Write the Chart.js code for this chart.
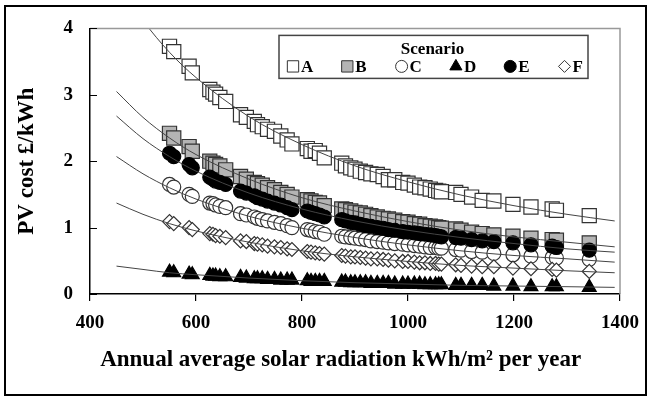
<!DOCTYPE html>
<html>
<head>
<meta charset="utf-8">
<script src="https://cdn.jsdelivr.net/npm/chart.js@4.4.1/dist/chart.umd.min.js"></script>
<style>
  html, body { margin:0; padding:0; background:#fff; }
  #wrap { position:relative; width:650px; height:396px; }
  #frame { position:absolute; left:4px; top:5px; width:639px; height:387px; border:2px solid #000; }
  #c { position:absolute; left:0; top:0; }
</style>
</head>
<body>
<div id="wrap">
  <div id="frame"></div>
  <canvas id="c" width="650" height="396"></canvas>
</div>
<script>
// Data
const radiation = [550,558,587,593,626,632,637,645,656,684,695,710,716,725,735,748,760,772,781,
  810,817,825,833,842,875,882,892,900,910,920,930,942,953,963,975,990,1000,1012,1022,1032,1042,
  1052,1058,1063,1090,1100,1120,1140,1162,1198,1232,1272,1280,1342];

const scenA = [3.73,3.65,3.43,3.33,3.08,3.04,3.01,2.96,2.90,2.70,2.66,2.60,2.55,2.52,2.48,2.45,2.38,2.32,2.26,
  2.19,2.15,2.16,2.12,2.05,1.97,1.93,1.90,1.88,1.85,1.83,1.81,1.80,1.77,1.72,1.72,1.68,1.67,1.64,1.61,1.60,1.58,
  1.56,1.55,1.54,1.53,1.50,1.46,1.41,1.40,1.35,1.31,1.28,1.26,1.18];
const scenB = [2.42,2.35,2.22,2.15,2.00,1.97,1.95,1.93,1.87,1.77,1.73,1.68,1.66,1.64,1.60,1.57,1.53,1.50,1.46,
  1.42,1.40,1.38,1.37,1.33,1.28,1.27,1.25,1.23,1.22,1.20,1.18,1.16,1.14,1.13,1.11,1.09,1.08,1.06,1.05,1.03,1.02,
  1.01,1.00,0.99,0.98,0.96,0.93,0.91,0.89,0.87,0.84,0.82,0.81,0.77];
const scenC = [1.65,1.61,1.50,1.47,1.37,1.36,1.34,1.32,1.30,1.21,1.19,1.16,1.14,1.12,1.10,1.08,1.06,1.03,1.00,
  0.97,0.96,0.94,0.93,0.90,0.87,0.86,0.85,0.84,0.83,0.82,0.80,0.79,0.78,0.77,0.76,0.75,0.74,0.73,0.72,0.71,0.70,
  0.70,0.69,0.69,0.67,0.66,0.64,0.63,0.61,0.59,0.57,0.55,0.54,0.52];
const scenD = [0.33,0.32,0.30,0.29,0.28,0.27,0.27,0.26,0.26,0.25,0.24,0.23,0.23,0.23,0.22,0.22,0.21,0.21,0.21,
  0.20,0.19,0.19,0.19,0.19,0.18,0.18,0.17,0.17,0.17,0.17,0.16,0.16,0.16,0.16,0.15,0.15,0.15,0.15,0.15,0.14,0.14,
  0.14,0.14,0.14,0.13,0.13,0.13,0.13,0.12,0.12,0.11,0.11,0.11,0.10];
const scenE = [2.12,2.07,1.95,1.90,1.76,1.73,1.70,1.68,1.65,1.55,1.52,1.48,1.45,1.43,1.40,1.37,1.34,1.30,1.27,
  1.25,1.23,1.21,1.19,1.16,1.12,1.10,1.08,1.07,1.05,1.03,1.02,1.00,0.99,0.97,0.96,0.94,0.93,0.92,0.91,0.90,0.89,
  0.88,0.87,0.86,0.85,0.84,0.82,0.80,0.79,0.77,0.74,0.72,0.70,0.66];
const scenF = [1.09,1.06,1.00,0.97,0.91,0.90,0.88,0.87,0.85,0.80,0.79,0.76,0.75,0.74,0.72,0.71,0.70,0.68,0.67,
  0.64,0.63,0.62,0.61,0.60,0.58,0.57,0.56,0.56,0.55,0.54,0.53,0.53,0.52,0.51,0.50,0.49,0.49,0.48,0.47,0.47,0.46,
  0.46,0.45,0.45,0.44,0.43,0.42,0.41,0.41,0.39,0.38,0.37,0.36,0.34];

// trend lines, read at these x positions
const fitX = [450,500,550,600,700,800,900,1000,1100,1200,1300,1390];
const fitA = [4.72,4.12,3.64,3.26,2.67,2.25,1.93,1.69,1.49,1.33,1.20,1.10];
const fitB = [3.05,2.66,2.35,2.10,1.73,1.45,1.25,1.09,0.96,0.86,0.78,0.71];
const fitC = [2.07,1.81,1.60,1.43,1.17,0.99,0.85,0.74,0.65,0.58,0.53,0.48];
const fitD = [0.42,0.37,0.32,0.29,0.24,0.20,0.17,0.15,0.13,0.12,0.11,0.10];
const fitE = [2.68,2.34,2.07,1.85,1.52,1.28,1.10,0.96,0.85,0.76,0.68,0.63];
const fitF = [1.37,1.20,1.06,0.95,0.78,0.65,0.56,0.49,0.43,0.39,0.35,0.32];

const xTicks = [400,600,800,1000,1200,1400];
const yTicks = [0,1,2,3,4];

const serif = "'Liberation Serif', 'Times New Roman', serif";
const pts = (xs, ys) => xs.map((x, i) => ({ x, y: ys[i] }));

// name, values, style
const scenarios = [
  { label:"A", data:scenA, fit:fitA, style:"rect",     r:10, bg:"#fff",    bd:"#333", order:6 },
  { label:"B", data:scenB, fit:fitB, style:"rect",     r:10, bg:"#b4b4b4", bd:"#333", order:5 },
  { label:"C", data:scenC, fit:fitC, style:"circle",   r:7,  bg:"#fff",    bd:"#333", order:4 },
  { label:"D", data:scenD, fit:fitD, style:"triangle", r:8,  bg:"#000",    bd:"#000", order:3 },
  { label:"E", data:scenE, fit:fitE, style:"circle",   r:7,  bg:"#000",    bd:"#000", order:2 },
  { label:"F", data:scenF, fit:fitF, style:"rectRot",  r:7,  bg:"#fff",    bd:"#333", order:1 }
];

const datasets = [];
scenarios.forEach(s => {
  datasets.push({
    label: s.label, data: pts(radiation, s.data), order: s.order,
    pointStyle: s.style, pointRadius: s.r, pointBackgroundColor: s.bg,
    pointBorderColor: s.bd, pointBorderWidth: 1.2, showLine: false
  });
});
scenarios.forEach(s => {
  datasets.push({
    label: s.label + " fit", data: pts(fitX, s.fit), order: 0,
    showLine: true, pointRadius: 0, borderColor: "#444", borderWidth: 1,
    cubicInterpolationMode: "monotone", fill: false
  });
});

// inward y ticks + grey top/right edge of the plot
const axisExtras = {
  id: "axisExtras",
  afterDraw(chart) {
    const { ctx, chartArea: a, scales } = chart;
    ctx.save();
    ctx.strokeStyle = "#999";
    ctx.lineWidth = 1.5;
    ctx.beginPath();
    ctx.moveTo(a.left, a.top); ctx.lineTo(a.right, a.top); ctx.lineTo(a.right, a.bottom);
    ctx.stroke();
    ctx.strokeStyle = "#000";
    ctx.lineWidth = 1.2;
    ctx.beginPath();
    yTicks.forEach(v => {
      const y = Math.round(scales.y.getPixelForValue(v)) + 0.5;
      ctx.moveTo(a.left, y); ctx.lineTo(a.left + 7, y);
    });
    ctx.stroke();
    ctx.restore();
  }
};

// boxed legend with title, one row
const legendBox = {
  id: "legendBox",
  afterDraw(chart) {
    const { ctx, chartArea: a } = chart;
    const left = a.left + 189, top = a.top + 7, w = 309, h = 43;
    ctx.save();
    ctx.fillStyle = "#fff";
    ctx.fillRect(left, top, w, h);
    ctx.strokeStyle = "#444";
    ctx.lineWidth = 1.5;
    ctx.strokeRect(left, top, w, h);
    ctx.fillStyle = "#000";
    ctx.font = "bold 17px " + serif;
    ctx.textAlign = "center";
    ctx.textBaseline = "middle";
    ctx.fillText("Scenario", left + w / 2 - 1, top + 14);
    const y = top + 31;
    const step = 54.3;
    scenarios.forEach((s, i) => {
      const mx = left + 14 + i * step;
      ctx.fillStyle = s.bg;
      ctx.strokeStyle = s.bd;
      ctx.lineWidth = 1;
      const r = s.style === "rect" ? 8 : (s.style === "triangle" ? 7 : 6);
      Chart.helpers.drawPoint(ctx, { pointStyle: s.style, radius: r, rotation: 0, borderWidth: 1 }, mx, y);
      ctx.fillStyle = "#000";
      ctx.textAlign = "left";
      ctx.fillText(s.label, mx + 8, y + 1);
    });
    ctx.restore();
  }
};

new Chart(document.getElementById("c"), {
  type: "scatter",
  data: { datasets },
  options: {
    responsive: false,
    animation: false,
    layout: { padding: { left: 0, top: 27, right: 26, bottom: 0 } },
    plugins: { legend: { display: false }, tooltip: { enabled: false } },
    scales: {
      x: {
        type: "linear", min: 400, max: 1400,
        afterBuildTicks: s => { s.ticks = xTicks.map(v => ({ value: v })); },
        ticks: { color: "#000", padding: 11, font: { family: serif, size: 19, weight: "bold" },
                 callback: v => String(v) },
        grid: { drawOnChartArea: false, drawTicks: true, tickLength: 7, color: "#000", lineWidth: 1.2 },
        border: { color: "#000", width: 1.5 },
        // trailing spaces nudge the centred title a little to the left, as in the original
        title: { display: true, text: "Annual average solar radiation kWh/m² per year\u00a0\u00a0\u00a0\u00a0\u00a0", color: "#000",
                 font: { family: serif, size: 23, weight: "bold" }, padding: { top: 0, bottom: 22 } },
        afterFit: s => { s.height = 102; }
      },
      y: {
        type: "linear", min: 0, max: 4,
        afterBuildTicks: s => { s.ticks = yTicks.map(v => ({ value: v })); },
        ticks: { color: "#000", padding: 17, font: { family: serif, size: 19, weight: "bold" } },
        grid: { drawOnChartArea: false, drawTicks: false },
        border: { color: "#000", width: 1.5 },
        title: { display: true, text: "PV cost £/kWh", color: "#000",
                 font: { family: serif, size: 23, weight: "bold" }, padding: { top: 13, bottom: 0 } },
        afterFit: s => { s.width = 90; }
      }
    }
  },
  plugins: [axisExtras, legendBox]
});
</script>
</body>
</html>
